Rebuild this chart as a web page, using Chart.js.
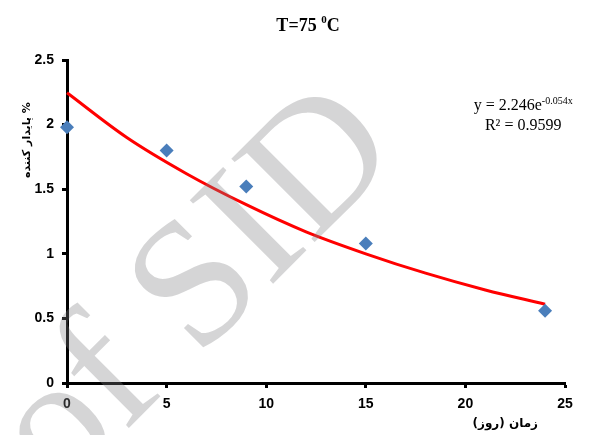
<!DOCTYPE html>
<html>
<head>
<meta charset="utf-8">
<script src="https://cdn.jsdelivr.net/npm/chart.js@4.4.0/dist/chart.umd.min.js"></script>
<style>
  html, body { margin: 0; padding: 0; background: #fff; }
  #wrap { width: 590px; height: 435px; position: relative; }
</style>
</head>
<body>
<div id="wrap"><canvas id="chart"></canvas></div>
<script>
// measured points
const days = [0, 5, 9, 15, 24];
const stabilizer = [1.98, 1.80, 1.52, 1.08, 0.56];

// trendline
const trendDays = [0, 3, 6, 9, 12, 15, 18, 21, 24];
const trendValues = [2.246, 1.9, 1.62, 1.38, 1.17, 1.0, 0.85, 0.72, 0.61];

const xTicks = [0, 5, 10, 15, 20, 25];
const yTicks = [0, 0.5, 1, 1.5, 2, 2.5];
const yTickLabels = ['0', '0.5', '1', '1.5', '2', '2.5'];

const titleMain = 'T=75 ';
const titleSup = '0';
const titleEnd = 'C';
const yTitle = '\u202B% پایدار کننده\u202C';
const xTitle = '\u202Bزمان (روز)\u202C';
const eqLine1 = 'y = 2.246e';
const eqSup = '-0.054x';
const eqLine2 = 'R² = 0.9599';
const watermark = 'of SID';

const labelsPlugin = {
    id: 'labels',
    afterDraw(chart) {
        const ctx = chart.ctx;
        const xs = chart.scales.x, ys = chart.scales.y;
        ctx.save();
        ctx.fillStyle = '#000';

        // title with superscript
        ctx.font = 'bold 18px "Liberation Serif"';
        ctx.textBaseline = 'alphabetic';
        ctx.textAlign = 'left';
        const w1 = ctx.measureText(titleMain).width;
        ctx.font = 'bold 11px "Liberation Serif"';
        const w2 = ctx.measureText(titleSup).width;
        ctx.font = 'bold 18px "Liberation Serif"';
        const w3 = ctx.measureText(titleEnd).width;
        let tx = 308 - (w1 + w2 + w3) / 2;
        ctx.fillText(titleMain, tx, 31);
        ctx.font = 'bold 11px "Liberation Serif"';
        ctx.fillText(titleSup, tx + w1, 23);
        ctx.font = 'bold 18px "Liberation Serif"';
        ctx.fillText(titleEnd, tx + w1 + w2, 31);

        // equation
        const ex = xs.getPixelForValue(22.9);
        ctx.font = '16px "Liberation Serif"';
        const a = ctx.measureText(eqLine1).width;
        ctx.font = '10px "Liberation Serif"';
        const b = ctx.measureText(eqSup).width;
        let sx = ex - (a + b) / 2;
        ctx.font = '16px "Liberation Serif"';
        ctx.fillText(eqLine1, sx, ys.getPixelForValue(2.116));
        ctx.font = '10px "Liberation Serif"';
        ctx.fillText(eqSup, sx + a, ys.getPixelForValue(2.16));
        ctx.font = '16px "Liberation Serif"';
        ctx.textAlign = 'center';
        ctx.fillText(eqLine2, ex, ys.getPixelForValue(1.96));

        // axis titles
        ctx.font = 'bold 12px "DejaVu Sans"';
        ctx.textBaseline = 'middle';
        ctx.fillText(xTitle, xs.getPixelForValue(22.0), 424);
        ctx.font = 'bold 11px "DejaVu Sans"';
        ctx.translate(27, ys.getPixelForValue(1.88));
        ctx.rotate(-Math.PI / 2);
        ctx.fillText(yTitle, 0, 0);
        ctx.restore();

        // watermark
        ctx.save();
        ctx.fillStyle = 'rgba(128,128,132,0.33)';
        ctx.font = '180px "Liberation Serif"';
        ctx.textAlign = 'center';
        ctx.textBaseline = 'middle';
        ctx.translate(198, 292);
        ctx.rotate(-45 * Math.PI / 180);
        ctx.fillText(watermark, 0, 0);
        ctx.restore();
    }
};

const ctx = document.getElementById('chart').getContext('2d');
const chart = new Chart(ctx, {
    type: 'scatter',
    data: {
        datasets: [
            {
                label: 'stabilizer',
                data: days.map((d, i) => ({ x: d, y: stabilizer[i] })),
                pointStyle: 'rectRot',
                pointRadius: 7,
                pointBackgroundColor: '#4a7ebb',
                pointBorderColor: '#4a7ebb',
                pointBorderWidth: 0,
                showLine: false,
                clip: false,
                order: 1
            },
            {
                label: 'trend',
                data: trendDays.map((d, i) => ({ x: d, y: trendValues[i] })),
                showLine: true,
                borderColor: '#ff0000',
                borderWidth: 3,
                pointRadius: 0,
                cubicInterpolationMode: 'monotone',
                clip: false,
                order: 2
            }
        ]
    },
    options: {
        responsive: true,
        maintainAspectRatio: false,
        animation: false,
        layout: { padding: { top: 60, right: 25, left: 0, bottom: 0 } },
        plugins: {
            legend: { display: false },
            tooltip: { enabled: false }
        },
        scales: {
            x: {
                type: 'linear',
                min: 0,
                max: 25,
                afterBuildTicks: s => { s.ticks = xTicks.map(v => ({ value: v })); },
                afterFit: s => { s.height = 52; },
                border: { display: true, color: '#000', width: 3 },
                grid: { drawOnChartArea: false, drawTicks: true, tickLength: 5, tickWidth: 3, tickColor: '#000' },
                ticks: { color: '#000', padding: 8, font: { family: 'Liberation Sans', size: 14, weight: 'bold' } }
            },
            y: {
                type: 'linear',
                min: 0,
                max: 2.5,
                afterBuildTicks: s => { s.ticks = yTicks.map(v => ({ value: v })); },
                afterFit: s => { s.width = 67; },
                border: { display: true, color: '#000', width: 3 },
                grid: { drawOnChartArea: false, drawTicks: true, tickLength: 5, tickWidth: 3, tickColor: '#000' },
                ticks: {
                    color: '#000',
                    padding: 8,
                    font: { family: 'Liberation Sans', size: 14, weight: 'bold' },
                    callback: (v, i) => yTickLabels[i]
                }
            }
        }
    },
    plugins: [labelsPlugin]
});
</script>
</body>
</html>
